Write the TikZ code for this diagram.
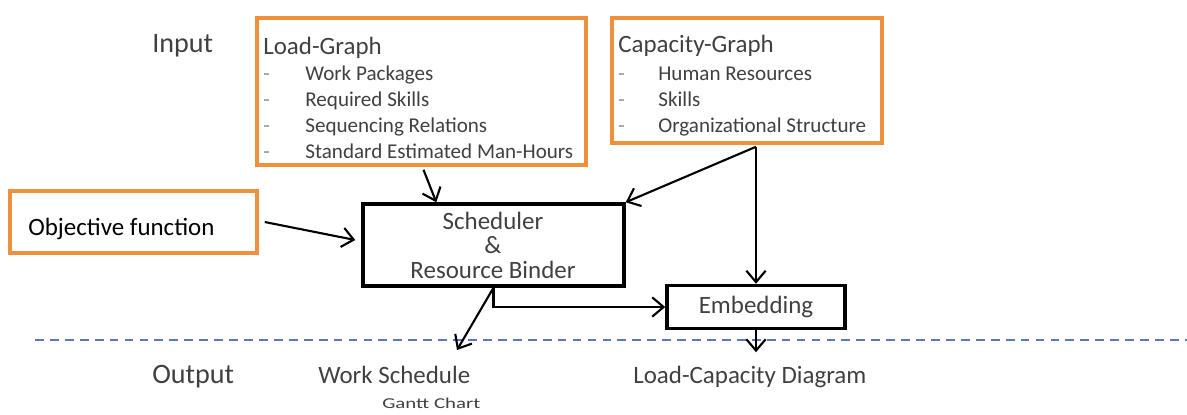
\documentclass[tikz,border=0pt]{standalone}
\usepackage{fontspec}
\setmainfont{Carlito}
\usetikzlibrary{arrows.meta,calc}
\definecolor{txt}{HTML}{404040}
\definecolor{dashg}{HTML}{909090}
\definecolor{orangeb}{HTML}{F0903C}
\definecolor{dashc}{HTML}{5A7AB0}
\tikzset{
  obox/.style={draw=orangeb,line width=2pt,rectangle,inner sep=0pt},
  bbox/.style={draw=black,line width=2pt,rectangle,inner sep=0pt},
  arr/.style={draw=black,line width=1.2pt,-{Straight Barb[length=6.5pt,width=11pt,line width=1.2pt]}},
  lbl/.style={text=txt,inner sep=0pt,anchor=west,text height=0.7em,text depth=0.2em,yshift=-1.8pt},
  big/.style={font=\fontsize{16}{18}\selectfont},
  mid/.style={font=\fontsize{14.2}{16}\selectfont},
  itm/.style={font=\fontsize{12}{14}\selectfont},
  dsh/.style={text=dashg,font=\fontsize{12}{14}\selectfont},
}
\begin{document}
\begin{tikzpicture}[x=0.02cm,y=-0.02cm]
\useasboundingbox (0,0) rectangle (1187,414);
% boxes
\node[obox,minimum width=6.58cm,minimum height=2.94cm] (load) at (421.5,91.5) {};
\node[obox,minimum width=5.4cm,minimum height=2.5cm] (cap) at (747,80.5) {};
\node[obox,minimum width=4.94cm,minimum height=1.24cm] (obj) at (133.5,222) {};
\node[bbox,minimum width=5.22cm,minimum height=1.64cm] (sched) at (493.5,245) {};
\node[bbox,minimum width=3.56cm,minimum height=0.86cm] (embed) at (756,307) {};
% texts
\node[lbl,big] (input) at (152,45) {Input};
\node[lbl,mid] (loadt) at (263,47) {Load-Graph};
\node[lbl,dsh] (ld1) at (263,73) {-};
\node[lbl,dsh] (ld2) at (263,99) {-};
\node[lbl,dsh] (ld3) at (263,125) {-};
\node[lbl,dsh] (ld4) at (263,151) {-};
\node[lbl,itm] (li1) at (305,73) {Work Packages};
\node[lbl,itm] (li2) at (305,99) {Required Skills};
\node[lbl,itm] (li3) at (305,125) {Sequencing Relations};
\node[lbl,itm] (li4) at (305,151) {Standard Estimated Man-Hours};
\node[lbl,mid] (capt) at (618,45) {Capacity-Graph};
\node[lbl,dsh] (cd1) at (618,73) {-};
\node[lbl,dsh] (cd2) at (618,99) {-};
\node[lbl,dsh] (cd3) at (618,125) {-};
\node[lbl,itm] (ci1) at (658,73) {Human Resources};
\node[lbl,itm] (ci2) at (658,99) {Skills};
\node[lbl,itm] (ci3) at (658,125) {Organizational Structure};
\node[lbl,mid,text=black] (objt) at (28,228) {Objective function};
\node[text=txt,inner sep=0pt,mid] (s1) at (493,221) {Scheduler};
\node[text=txt,inner sep=0pt,mid] (s2) at (493,245) {\&};
\node[text=txt,inner sep=0pt,mid] (s3) at (493,270) {Resource Binder};
\node[text=txt,inner sep=0pt,mid] (embt) at (756,307) {Embedding};
\node[lbl,big] (output) at (152,376) {Output};
\node[lbl,mid] (ws) at (318,376) {Work Schedule};
\node[text=txt,inner sep=0pt,anchor=west] (gc) at (382,403) {\resizebox{1.96cm}{0.21cm}{Gantt Chart}};
\node[lbl,mid] (lcd) at (633,376) {Load-Capacity Diagram};
% dashed separator
\coordinate (dl1) at (35,340);
\coordinate (dl2) at (1187,340);
\draw[dashc,line width=0.6pt,dash pattern=on 5pt off 3.5pt] (dl1) -- (dl2);
% connectors
\draw[arr] ($(load.south)+(2,3)$) -- ($(sched.north west)+(75,0)$);
\coordinate (cp) at ($(cap.south)+(9,2)$);
\draw[arr] (cp) -- (sched.north east);
\draw[arr] (cp) -- (cp |- embed.north);
\draw[arr] ($(obj.east)+(6,0)$) -- ($(sched.west)+(-6,-5)$);
\draw[arr] (sched.south) |- (embed.west);
\coordinate (wsin) at (457,350);
\draw[arr] (sched.south) -- (wsin);
\coordinate (lcdin) at ($(embed.south)+(0,22)$);
\draw[arr] (embed.south) -- (lcdin);
\end{tikzpicture}
\end{document}
